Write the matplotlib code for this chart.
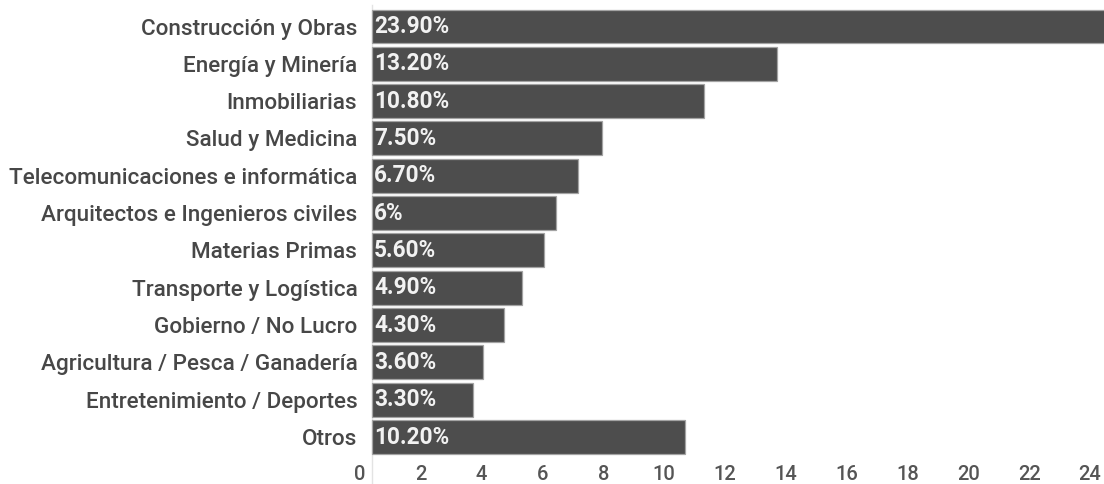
import matplotlib
matplotlib.use("Agg")
import matplotlib.pyplot as plt
import numpy as np

plt.rcParams['font.family'] = ['Roboto', 'DejaVu Sans']

# data
categories = ["Construcción y Obras", "Energía y Minería", "Inmobiliarias",
              "Salud y Medicina", "Telecomunicaciones e informática",
              "Arquitectos e Ingenieros civiles", "Materias Primas",
              "Transporte y Logística", "Gobierno / No Lucro",
              "Agricultura / Pesca / Ganadería", "Entretenimiento / Deportes",
              "Otros"]
values = [23.9, 13.2, 10.8, 7.5, 6.7, 6.0, 5.6, 4.9, 4.3, 3.6, 3.3, 10.2]
value_labels = ["23.90%", "13.20%", "10.80%", "7.50%", "6.70%", "6%",
                "5.60%", "4.90%", "4.30%", "3.60%", "3.30%", "10.20%"]
tick_values = np.arange(0, 25, 2)

W, H = 1104, 484
fig = plt.figure(figsize=(W / 100, H / 100), dpi=100)

# axes geometry in pixels
left_px, right_px = 358, 1104
top_px, bottom_px = 7.85, 455.7
zero_px = 372
px_per_unit = 30.7       # bar scale
tick_px_per_unit = 30.42  # tick label scale
tick_zero_px = 360

ax = fig.add_axes([left_px / W, 1 - bottom_px / H,
                   (right_px - left_px) / W, (bottom_px - top_px) / H])

y = np.arange(len(categories))
ax.barh(y, values, height=0.91, color='#4d4d4d', edgecolor='#a3a3a3',
        linewidth=0.9)

ax.set_xlim(-(zero_px - left_px) / px_per_unit, (right_px - zero_px) / px_per_unit)
ax.set_ylim(len(categories) - 0.5, -0.5)

for yi, lab in zip(y, value_labels):
    ax.annotate(lab, (0, yi), xytext=(1.5, 0), textcoords='offset points',
                ha='left', va='center', color='#f2f2f2', fontsize=16.3,
                fontweight='bold')

ax.set_yticks(y)
ax.set_yticklabels(categories, fontsize=16.2, color='#474747', fontweight=500)
ax.tick_params(axis='y', length=0, pad=0.5)
ax.set_xticks([])

for s in ax.spines.values():
    s.set_visible(False)

ax.axvline(0, ymin=-0.07, ymax=1.006, color='#e3e3e3', lw=1, clip_on=False,
           zorder=0)


# tick labels sit on a slightly different scale than the bars
def to_tick(x):
    return (x * px_per_unit + zero_px - tick_zero_px) / tick_px_per_unit


def from_tick(t):
    return (t * tick_px_per_unit + tick_zero_px - zero_px) / px_per_unit


sec = ax.secondary_xaxis('bottom', functions=(to_tick, from_tick))
sec.set_xticks(tick_values)
sec.set_xticklabels([str(t) for t in tick_values], fontsize=14.5,
                    color='#555555', fontweight=500)
sec.tick_params(length=0, pad=6.5)
for s in sec.spines.values():
    s.set_visible(False)

fig.savefig("out.png", dpi=100)
